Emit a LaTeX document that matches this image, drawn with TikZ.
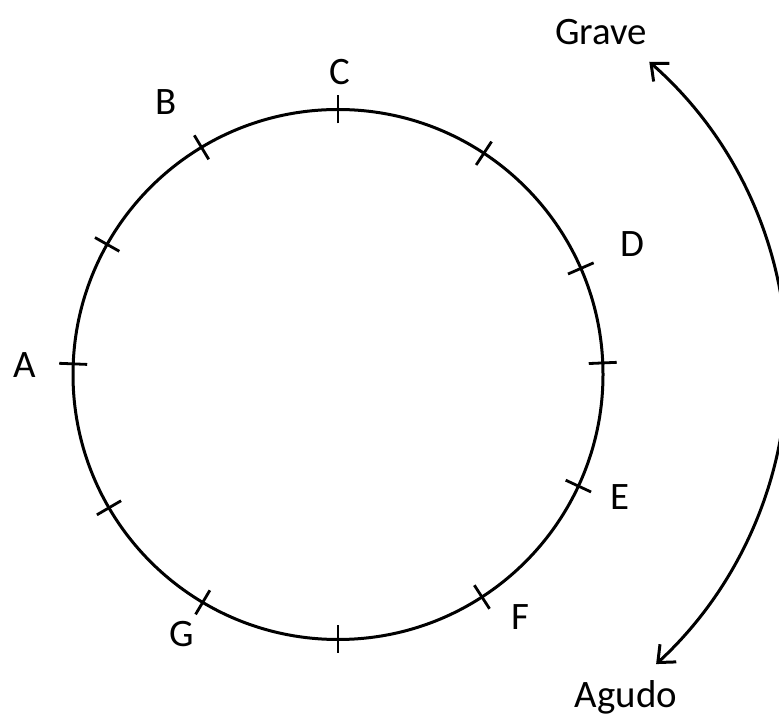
\documentclass[tikz,border=0pt]{standalone}
\usepackage{fontspec}
\setmainfont{Carlito}
\usetikzlibrary{arrows.meta}
\begin{document}
\begin{tikzpicture}[x=1bp,y=1bp,
  ring/.style={line width=3bp, black},
  tickmark/.style={line width=2.8bp, black},
  lbl/.style={font=\fontsize{39}{42}\selectfont, anchor=base, inner sep=0pt},
  pitch/.style={line width=3bp, {Straight Barb[length=14bp,width=24bp,line width=3bp]}-{Straight Barb[length=14bp,width=24bp,line width=3bp]}}]
\useasboundingbox (0,0) rectangle (779,717);
\fill[white] (0,0) rectangle (779,717);
\clip (0,0) rectangle (779,717);
% main circle
\coordinate (c) at (338,342.5);
\draw[ring] (c) circle (265);
\foreach \a in {90,121,56.6,23.6,2.5,-24.9,-57.1,-90,239.3,210.2,177.7,150.6}
  \draw[tickmark] (c) ++(\a:251) -- ++(\a:28);
% labels (x, baseline)
\node[lbl] (C) at (340,632) {C};
\node[lbl] (B) at (166,602) {B};
\node[lbl] (D) at (632,460) {D};
\node[lbl] (A) at (25,339) {A};
\node[lbl] (E) at (620,207) {E};
\node[lbl] (F) at (520,87) {F};
\node[lbl] (G) at (182,70) {G};
\node[lbl] (grave) at (601,672) {Grave};
\node[lbl] (agudo) at (626,9) {Agudo};
% pitch arc
\coordinate (ac) at (382,351);
\coordinate (gtip) at ([shift={(48.7:405)}]ac);
\draw[pitch] (gtip) arc[start angle=48.7, end angle=-47.4, radius=405];
\end{tikzpicture}
\end{document}
